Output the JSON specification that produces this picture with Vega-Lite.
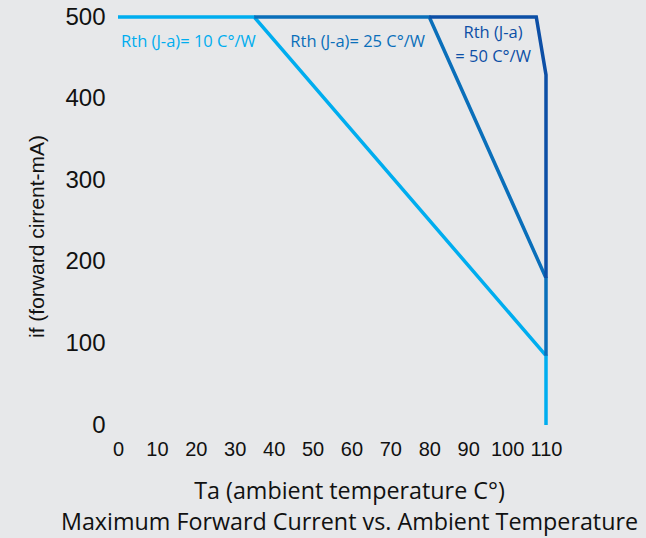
{
  "$schema": "https://vega.github.io/schema/vega-lite/v6.json",
  "width": 428,
  "height": 408,
  "autosize": {"type": "none"},
  "padding": {"left": 118, "top": 17, "right": 100, "bottom": 113},
  "background": "#e7e8ea",
  "config": {"view": {"stroke": null}},
  "datasets": {
    "lines": [
      {"series": "10", "i": 1, "ta": 0, "current": 500},
      {"series": "10", "i": 2, "ta": 35, "current": 500},
      {"series": "10", "i": 3, "ta": 110, "current": 85},
      {"series": "10", "i": 4, "ta": 110, "current": 0},
      {"series": "25", "i": 1, "ta": 35, "current": 500},
      {"series": "25", "i": 2, "ta": 80, "current": 500},
      {"series": "25", "i": 3, "ta": 110, "current": 180},
      {"series": "25", "i": 4, "ta": 110, "current": 85},
      {"series": "50", "i": 1, "ta": 80, "current": 500},
      {"series": "50", "i": 2, "ta": 107.5, "current": 500},
      {"series": "50", "i": 3, "ta": 110, "current": 429},
      {"series": "50", "i": 4, "ta": 110, "current": 180}
    ],
    "labels": [
      {"series": "10", "ta": 18.1, "current": 469, "text": "Rth (J-a)= 10 C°/W"},
      {"series": "25", "ta": 61.6, "current": 469, "text": "Rth (J-a)= 25 C°/W"},
      {"series": "50", "ta": 96.4, "current": 480, "text": "Rth (J-a)"},
      {"series": "50", "ta": 96.4, "current": 451, "text": "= 50 C°/W"}
    ]
  },
  "encoding": {
    "x": {
      "field": "ta", "type": "quantitative",
      "scale": {"domain": [0, 110], "nice": false, "zero": false},
      "axis": {
        "values": [0, 10, 20, 30, 40, 50, 60, 70, 80, 90, 100, 110],
        "domain": false, "ticks": false, "grid": false,
        "labelFont": "Liberation Sans", "labelFontSize": 20, "labelColor": "#111111",
        "labelPadding": 14, "labelOverlap": false, "labelFlush": false, "labelSeparation": 0,
        "title": ["Ta (ambient temperature C°)", "Maximum Forward Current vs. Ambient Temperature"],
        "titleFont": "Open Sans", "titleFontSize": 23.3, "titleFontWeight": "normal",
        "titleColor": "#111111", "titleLineHeight": 31,
        "titleX": 231, "titleY": 55, "titleBaseline": "top", "titleAlign": "center"
      }
    },
    "y": {
      "field": "current", "type": "quantitative",
      "scale": {"domain": [0, 500], "nice": false},
      "axis": {
        "values": [0, 100, 200, 300, 400, 500],
        "domain": false, "ticks": false, "grid": false,
        "labelFont": "Liberation Sans", "labelFontSize": 24, "labelColor": "#111111",
        "labelPadding": 13,
        "title": "if (forward cirrent-mA)",
        "titleFont": "Liberation Sans", "titleFontSize": 21, "titleFontWeight": "normal",
        "titleColor": "#111111",
        "titleX": -81, "titleY": 219, "titleBaseline": "middle", "titleAlign": "center", "titleAngle": -90
      }
    },
    "color": {
      "field": "series", "type": "nominal",
      "scale": {"domain": ["10", "25", "50"], "range": ["#00adef", "#0a6fba", "#0d4fa6"]},
      "legend": null
    }
  },
  "layer": [
    {
      "data": {"name": "lines"},
      "mark": {"type": "line", "strokeWidth": 3.5, "strokeJoin": "miter"},
      "encoding": {
        "order": {"field": "i", "type": "quantitative"}
      }
    },
    {
      "data": {"name": "labels"},
      "mark": {"type": "text", "font": "Open Sans", "fontSize": 16.5, "align": "center", "baseline": "middle"},
      "encoding": {
        "text": {"field": "text"}
      }
    }
  ]
}
